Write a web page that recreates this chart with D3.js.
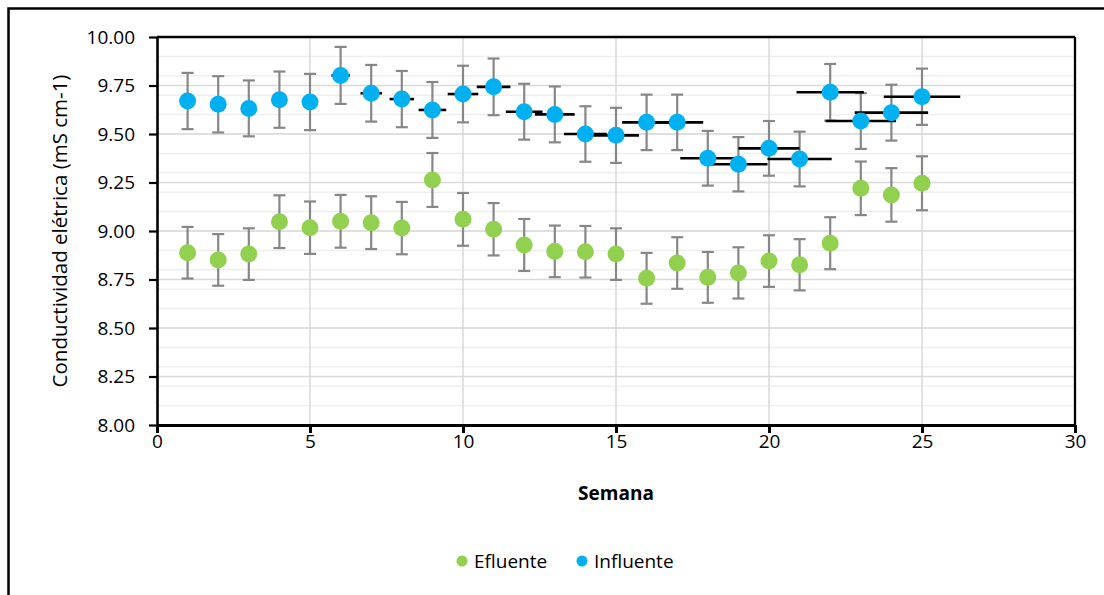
<!DOCTYPE html>
<html>
<head>
<meta charset="utf-8">
<script src="https://cdn.jsdelivr.net/npm/d3@7"></script>
<style>
  body { margin: 0; background: #fff; }
  svg { display: block; font-family: "Open Sans", "Noto Sans", sans-serif; }
</style>
</head>
<body>
<svg id="chart" width="1104" height="595"></svg>
<script>
// semanas
var semanas = d3.range(1, 26);

// Conductividad (mS cm-1)
var efluente = [8.888, 8.851, 8.881, 9.048, 9.017, 9.050, 9.043, 9.015, 9.263, 9.060,
                9.009, 8.928, 8.895, 8.893, 8.881, 8.756, 8.835, 8.761, 8.784, 8.845,
                8.826, 8.937, 9.220, 9.186, 9.246];
var efluenteErr = [0.133, 0.133, 0.133, 0.136, 0.135, 0.136, 0.136, 0.135, 0.139, 0.136,
                   0.135, 0.134, 0.133, 0.133, 0.133, 0.131, 0.133, 0.131, 0.132, 0.133,
                   0.132, 0.134, 0.138, 0.138, 0.139];

var influente = [9.670, 9.653, 9.632, 9.677, 9.665, 9.802, 9.710, 9.680, 9.624, 9.706,
                 9.743, 9.615, 9.601, 9.500, 9.493, 9.560, 9.560, 9.375, 9.344, 9.426,
                 9.371, 9.715, 9.567, 9.610, 9.692];
var influenteErr = [0.145, 0.145, 0.144, 0.145, 0.145, 0.147, 0.146, 0.145, 0.144, 0.146,
                    0.146, 0.144, 0.144, 0.143, 0.142, 0.143, 0.143, 0.141, 0.140, 0.141,
                    0.141, 0.146, 0.144, 0.144, 0.145];
// barras horizontales (error en x) del influente
var influenteErrX = [0.05, 0.10, 0.15, 0.20, 0.25, 0.30, 0.35, 0.40, 0.45, 0.50,
                     0.55, 0.60, 0.65, 0.70, 0.75, 0.80, 0.85, 0.90, 0.95, 1.00,
                     1.05, 1.10, 1.15, 1.20, 1.25];

var xTicks = [0, 5, 10, 15, 20, 25, 30];
var yTicks = [8.00, 8.25, 8.50, 8.75, 9.00, 9.25, 9.50, 9.75, 10.00];
var yMinor = d3.range(81, 100).map(function (d) { return d / 10; });

var series = [
  {name: "Efluente", color: "#92D050", values: efluente, err: efluenteErr, errX: null},
  {name: "Influente", color: "#00B0F0", values: influente, err: influenteErr, errX: influenteErrX}
];

var svg = d3.select("#chart");
var mLeft = 157, mRight = 1075, mTop = 37, mBottom = 425;

var x = d3.scaleLinear().domain([0, 30]).range([mLeft, mRight]);
var y = d3.scaleLinear().domain([8, 10]).range([mBottom, mTop]);

// marco exterior
svg.append("rect")
  .attr("x", 8.5).attr("y", 8.5)
  .attr("width", 1300).attr("height", 800)
  .attr("fill", "none").attr("stroke", "#000").attr("stroke-width", 2.5);

// rejilla menor
svg.append("g").selectAll("line")
  .data(yMinor)
  .enter().append("line")
  .attr("x1", mLeft).attr("x2", mRight)
  .attr("y1", function (d) { return y(d); })
  .attr("y2", function (d) { return y(d); })
  .attr("stroke", "#efefef").attr("stroke-width", 1.5);

// rejilla mayor
svg.append("g").selectAll("line")
  .data(yTicks)
  .enter().append("line")
  .attr("x1", mLeft).attr("x2", mRight)
  .attr("y1", function (d) { return y(d); })
  .attr("y2", function (d) { return y(d); })
  .attr("stroke", "#d9d9d9").attr("stroke-width", 1.5);

svg.append("g").selectAll("line")
  .data(xTicks.slice(1, -1))
  .enter().append("line")
  .attr("x1", function (d) { return x(d); })
  .attr("x2", function (d) { return x(d); })
  .attr("y1", mTop).attr("y2", mBottom)
  .attr("stroke", "#d9d9d9").attr("stroke-width", 1.5);

// marco del área de trazado
svg.append("line").attr("x1", mLeft).attr("x2", mRight).attr("y1", mTop).attr("y2", mTop)
  .attr("stroke", "#000").attr("stroke-width", 2.3);
svg.append("line").attr("x1", mRight).attr("x2", mRight).attr("y1", mTop).attr("y2", mBottom)
  .attr("stroke", "#000").attr("stroke-width", 2.3);

// ejes
var xAxis = svg.append("g")
  .attr("transform", "translate(0," + mBottom + ")")
  .call(d3.axisBottom(x).tickValues(xTicks).tickFormat(d3.format("d"))
        .tickSize(8).tickSizeOuter(0).tickPadding(2));
var yAxis = svg.append("g")
  .attr("transform", "translate(" + mLeft + ",0)")
  .call(d3.axisLeft(y).tickValues(yTicks).tickFormat(d3.format(".2f"))
        .tickSize(8).tickSizeOuter(0).tickPadding(14));

xAxis.select(".domain").attr("stroke", "#000").attr("stroke-width", 3.2);
yAxis.select(".domain").attr("stroke", "#000").attr("stroke-width", 2.6);
xAxis.selectAll(".tick line").attr("stroke", "#000").attr("stroke-width", 3);
yAxis.selectAll(".tick line").attr("stroke", "#000").attr("stroke-width", 2.2);
svg.selectAll(".tick text")
  .attr("fill", "#000")
  .style("font-size", "19px")
  .style("font-family", "'Open Sans', sans-serif");

// series
series.forEach(function (s) {
  var g = svg.append("g").attr("class", "serie");
  var pts = semanas.map(function (w, i) {
    return {x: w, y: s.values[i], e: s.err[i], ex: s.errX ? s.errX[i] : 0};
  });

  // barras de error verticales
  g.selectAll(".ebar").data(pts).enter().append("line")
    .attr("class", "ebar")
    .attr("x1", function (d) { return x(d.x); })
    .attr("x2", function (d) { return x(d.x); })
    .attr("y1", function (d) { return y(d.y + d.e); })
    .attr("y2", function (d) { return y(d.y - d.e); })
    .attr("stroke", "#878787").attr("stroke-width", 2.2);
  [1, -1].forEach(function (sign) {
    g.selectAll(".ecap" + (sign > 0 ? "a" : "b")).data(pts).enter().append("line")
      .attr("class", "ecap" + (sign > 0 ? "a" : "b"))
      .attr("x1", function (d) { return x(d.x) - 6; })
      .attr("x2", function (d) { return x(d.x) + 6; })
      .attr("y1", function (d) { return y(d.y + sign * d.e); })
      .attr("y2", function (d) { return y(d.y + sign * d.e); })
      .attr("stroke", "#878787").attr("stroke-width", 2.2);
  });

  // barras de error horizontales
  if (s.errX) {
    g.selectAll(".xbar").data(pts).enter().append("line")
      .attr("class", "xbar")
      .attr("x1", function (d) { return x(d.x - d.ex); })
      .attr("x2", function (d) { return x(d.x + d.ex); })
      .attr("y1", function (d) { return y(d.y); })
      .attr("y2", function (d) { return y(d.y); })
      .attr("stroke", "#000").attr("stroke-width", 2.6);
  }

  g.selectAll("circle").data(pts).enter().append("circle")
    .attr("cx", function (d) { return x(d.x); })
    .attr("cy", function (d) { return y(d.y); })
    .attr("r", 8.5)
    .attr("fill", s.color);
});

// títulos de ejes
svg.append("text")
  .attr("transform", "translate(67," + ((mTop + mBottom) / 2) + ") rotate(-90)")
  .attr("text-anchor", "middle")
  .style("font-size", "20.5px")
  .text("Conductividad elétrica (mS cm-1)");

svg.append("text")
  .attr("x", x(15)).attr("y", 500)
  .attr("text-anchor", "middle")
  .style("font-size", "19px").style("font-weight", "bold")
  .text("Semana");

// leyenda
var legend = svg.append("g").attr("transform", "translate(462,561)");
var item = legend.selectAll("g").data(series).enter().append("g")
  .attr("transform", function (d, i) { return "translate(" + (i * 120) + ",0)"; });
item.append("circle").attr("r", 5.5).attr("fill", function (d) { return d.color; });
item.append("text")
  .attr("x", 12).attr("y", 6.5)
  .style("font-size", "19px")
  .text(function (d) { return d.name; });
</script>
</body>
</html>
